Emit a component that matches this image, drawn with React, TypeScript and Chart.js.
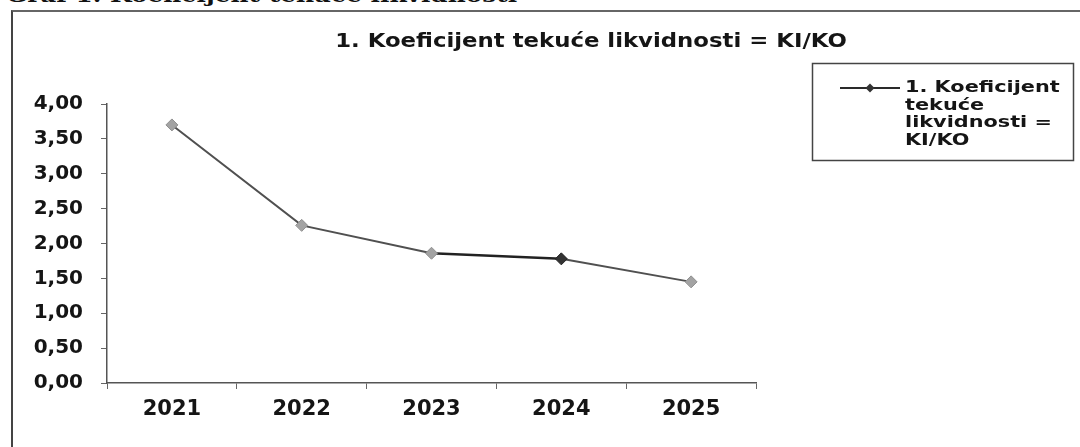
import React, { useEffect, useRef } from "react";
import { Chart, registerables } from "chart.js";

Chart.register(...registerables);

const categories: string[] = ["2021", "2022", "2023", "2024", "2025"];
const values: number[] = [3.7, 2.26, 1.86, 1.78, 1.45];
const seriesLabel = "1. Koeficijent tekuće likvidnosti = KI/KO";
const chartTitle = "1. Koeficijent tekuće likvidnosti = KI/KO";
const pageHeading = "Graf 1. Koeficijent tekuće likvidnosti";
const yMin = 0;
const yMax = 4;
const yStep = 0.5;

const FONT = "'DejaVu Sans', 'Liberation Sans', Arial, sans-serif";

function scaledText(ctx: CanvasRenderingContext2D, text: string, x: number, y: number, sx: number) {
  ctx.save();
  ctx.translate(x, y);
  ctx.scale(sx, 1);
  ctx.fillText(text, 0, 0);
  ctx.restore();
}

const decorPlugin = {
  id: "decor",
  afterDraw(chart: any) {
    const ctx = chart.ctx as CanvasRenderingContext2D;
    ctx.save();
    // title
    ctx.fillStyle = "#151515";
    ctx.font = `bold 19px ${FONT}`;
    ctx.textAlign = "center";
    ctx.textBaseline = "middle";
    scaledText(ctx, chartTitle, 591, 42, 1.2);

    // legend box
    const bx = 812.5, by = 63.5, bw = 261, bh = 97;
    ctx.strokeStyle = "#444";
    ctx.lineWidth = 1.5;
    ctx.strokeRect(bx, by, bw, bh);

    const ds = chart.data.datasets[0];
    const ly = 88;
    ctx.strokeStyle = "#2a2a2a";
    ctx.lineWidth = 2;
    ctx.beginPath();
    ctx.moveTo(840, ly);
    ctx.lineTo(900, ly);
    ctx.stroke();
    ctx.fillStyle = "#333";
    ctx.beginPath();
    ctx.moveTo(870, ly - 4.5);
    ctx.lineTo(874.5, ly);
    ctx.lineTo(870, ly + 4.5);
    ctx.lineTo(865.5, ly);
    ctx.closePath();
    ctx.fill();

    const sx = 1.25;
    ctx.font = `bold 16px ${FONT}`;
    ctx.textAlign = "left";
    ctx.fillStyle = "#151515";
    const words = String(ds.label).split(" ");
    const maxW = 163;
    const lines: string[] = [];
    let cur = "";
    for (const w of words) {
      const t = cur ? cur + " " + w : w;
      if (cur && ctx.measureText(t).width * sx > maxW) {
        lines.push(cur);
        cur = w;
      } else {
        cur = t;
      }
    }
    if (cur) lines.push(cur);
    lines.forEach((l, i) => scaledText(ctx, l, 905, ly + i * 17.5, 1.3));
    ctx.restore();
  },
};

export default function App() {
  const ref = useRef<HTMLCanvasElement | null>(null);

  useEffect(() => {
    if (!ref.current) return;
    const chart = new Chart(ref.current, {
      type: "line",
      data: {
        labels: categories,
        datasets: [
          {
            label: seriesLabel,
            data: values,
            borderColor: "#4a4a4a",
            borderWidth: 2,
            tension: 0,
            pointStyle: "rectRot",
            pointRadius: 6,
            pointBackgroundColor: ["#a3a3a3", "#a3a3a3", "#a3a3a3", "#333333", "#a3a3a3"],
            pointBorderColor: ["#8f8f8f", "#8f8f8f", "#8f8f8f", "#222222", "#8f8f8f"],
            pointBorderWidth: 1,
            segment: {
              borderColor: (c: any) => (c.p0DataIndex === 2 ? "#222" : "#505050"),
              borderWidth: (c: any) => (c.p0DataIndex === 2 ? 2.5 : 2),
            },
          } as any,
        ],
      },
      options: {
        responsive: false,
        animation: false,
        layout: { padding: { top: 104, right: 324, bottom: 0, left: 0 } },
        plugins: {
          legend: { display: false },
          title: { display: false },
          tooltip: { enabled: false },
        },
        scales: {
          x: {
            offset: true,
            grid: { offset: true, drawOnChartArea: false, tickLength: 6, color: "#666", lineWidth: 1 },
            border: { color: "#555", width: 1.5 },
            ticks: {
              color: "#151515",
              font: { family: FONT, weight: "bold", size: 21 },
              padding: 8,
              maxRotation: 0,
            },
            afterFit: (s: any) => {
              s.height = 64;
            },
          },
          y: {
            min: yMin,
            max: yMax,
            grid: { drawOnChartArea: false, tickLength: 6, color: "#666", lineWidth: 1 },
            border: { color: "#555", width: 1.5 },
            ticks: {
              stepSize: yStep,
              color: "#151515",
              font: { family: FONT, weight: "bold", size: 20 },
              padding: 18,
              callback: (v: any) => Number(v).toFixed(2).replace(".", ","),
            },
            afterFit: (s: any) => {
              s.width = 107;
            },
          },
        },
      } as any,
      plugins: [decorPlugin],
    });
    return () => chart.destroy();
  }, []);

  return (
    <div
      style={{
        position: "fixed",
        left: 0,
        top: 0,
        width: 1080,
        height: 447,
        background: "#fff",
        overflow: "hidden",
      }}
    >
      <div
        style={{
          position: "absolute",
          left: 6,
          top: -16,
          fontFamily: "'DejaVu Serif', 'Liberation Serif', serif",
          fontWeight: "bold",
          fontSize: 21,
          lineHeight: "21px",
          color: "#111",
          whiteSpace: "nowrap",
          transform: "scaleX(1.18)",
          transformOrigin: "0 0",
        }}
      >
        {pageHeading}
      </div>
      <div
        style={{
          position: "absolute",
          left: 11,
          top: 10,
          width: 1200,
          height: 600,
          borderTop: "2px solid #666",
          borderLeft: "2px solid #444",
        }}
      />
      <canvas
        ref={ref}
        width={1080}
        height={447}
        style={{ position: "absolute", left: 0, top: 0, width: 1080, height: 447 }}
      />
    </div>
  );
}
